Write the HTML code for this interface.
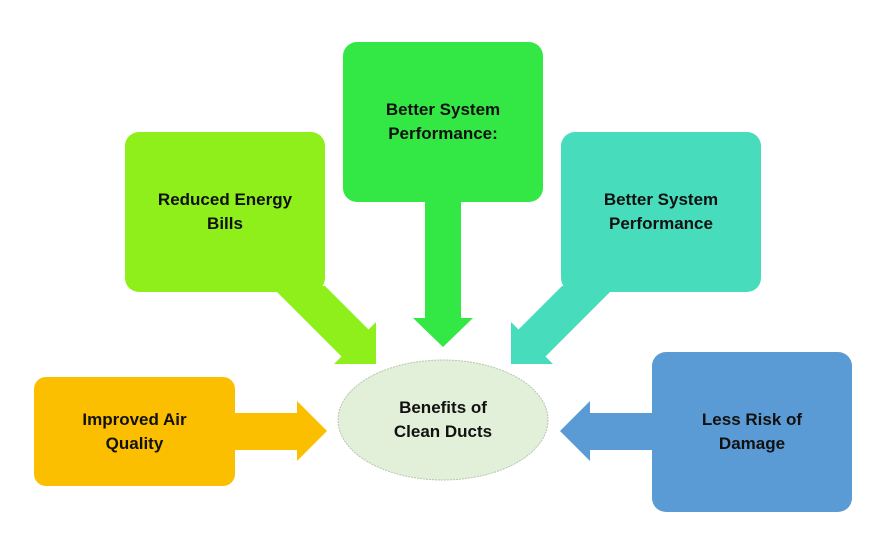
<!DOCTYPE html>
<html><head><style>
body{margin:0;background:#fff;width:888px;height:546px;overflow:hidden;position:relative;font-family:"Liberation Sans",sans-serif}
.t{position:absolute;font-weight:bold;font-size:17px;line-height:24px;text-align:center;color:#111;display:flex;align-items:center;justify-content:center}
</style></head><body>
<svg width="888" height="546" style="position:absolute;left:0;top:0">
<polygon points="425,195 461,195 461,318 473,318 443,347 413,318 425,318" fill="#33e845"/>
<polygon points="271,286 325,286 368.5,329.5 376,322 376,364 334,364 341.5,356.5" fill="#8fef1a"/>
<polygon points="616,286 562,286 518.5,329.5 511,322 511,364 553,364 545.5,356.5" fill="#46dcbc"/>
<polygon points="230,413 297,413 297,401 327,431 297,461 297,450 230,450" fill="#fbbf00"/>
<polygon points="660,413 590,413 590,401 560,431 590,461 590,450 660,450" fill="#5b9bd5"/>
<rect x="343" y="42" width="200" height="160" rx="14" fill="#33e845"/>
<rect x="125" y="132" width="200" height="160" rx="14" fill="#8fef1a"/>
<rect x="561" y="132" width="200" height="160" rx="14" fill="#46dcbc"/>
<rect x="34" y="377" width="201" height="109" rx="12" fill="#fbbf00"/>
<rect x="652" y="352" width="200" height="160" rx="14" fill="#5b9bd5"/>
<ellipse cx="443" cy="420" rx="105" ry="60" fill="#e2efd9" stroke="#b8c4b0" stroke-width="1" stroke-dasharray="2,1"/>
</svg>
<div class="t" style="left:343px;top:42px;width:200px;height:160px">Better System<br>Performance:</div>
<div class="t" style="left:125px;top:132px;width:200px;height:160px">Reduced Energy<br>Bills</div>
<div class="t" style="left:561px;top:132px;width:200px;height:160px">Better System<br>Performance</div>
<div class="t" style="left:34px;top:377px;width:201px;height:109px">Improved Air<br>Quality</div>
<div class="t" style="left:652px;top:352px;width:200px;height:160px">Less Risk of<br>Damage</div>
<div class="t" style="left:338px;top:360px;width:210px;height:120px">Benefits of<br>Clean Ducts</div>
</body></html>
